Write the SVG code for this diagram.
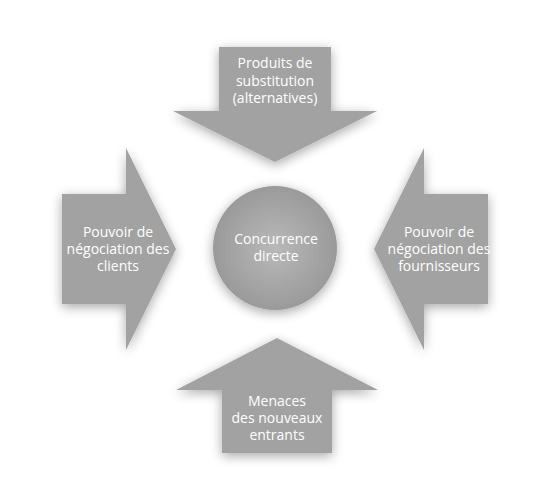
<svg xmlns="http://www.w3.org/2000/svg" width="550" height="501" viewBox="0 0 550 501">
  <defs>
    <filter id="shadow" x="-30%" y="-30%" width="160%" height="160%">
      <feGaussianBlur in="SourceAlpha" stdDeviation="6"/>
      <feOffset dx="0" dy="3" result="b"/>
      <feComponentTransfer><feFuncA type="linear" slope="0.35"/></feComponentTransfer>
      <feMerge><feMergeNode/><feMergeNode in="SourceGraphic"/></feMerge>
    </filter>
    <radialGradient id="sphere" cx="50%" cy="50%" r="50%">
      <stop offset="0" stop-color="#b9b9b9"/>
      <stop offset="1" stop-color="#9a9a9a"/>
    </radialGradient>
    <style>
      .arrow { fill: #a2a2a2; filter: url(#shadow); }
      .lbl { font-family: "Open Sans", "Lato", sans-serif; font-size: 14px; fill: #ffffff; text-anchor: middle; font-variant-ligatures: none; }
    </style>
  </defs>
  <rect width="550" height="501" fill="#ffffff"/>
  <g id="connectors"></g>
  <g id="substitution">
    <polygon class="arrow" points="219,47 331,47 331,111 377,111 275,162 173,111 219,111"/>
    <text class="lbl" x="275" y="68">Produits de</text>
    <text class="lbl" x="275" y="86">substitution</text>
    <text class="lbl" x="275" y="103">(alternatives)</text>
  </g>
  <g id="clients">
    <polygon class="arrow" points="62,194 126,194 126,148 176,249 126,350 126,304 62,304"/>
    <text class="lbl" x="118" y="237">Pouvoir de</text>
    <text class="lbl" x="118" y="254">négociation des</text>
    <text class="lbl" x="118" y="271">clients</text>
  </g>
  <g id="fournisseurs">
    <polygon class="arrow" points="488,194 424,194 424,148 374,249 424,350 424,304 488,304"/>
    <text class="lbl" x="439" y="237">Pouvoir de</text>
    <text class="lbl" x="439" y="254">négociation des</text>
    <text class="lbl" x="439" y="271">fournisseurs</text>
  </g>
  <g id="nouveaux">
    <polygon class="arrow" points="277,338 378,390 332,390 332,453 222,453 222,390 176,390"/>
    <text class="lbl" x="277" y="406">Menaces</text>
    <text class="lbl" x="277" y="423">des nouveaux</text>
    <text class="lbl" x="277" y="440">entrants</text>
  </g>
  <g id="concurrence">
    <circle cx="275" cy="248" r="62" fill="url(#sphere)" filter="url(#shadow)"/>
    <text class="lbl" x="276" y="244">Concurrence</text>
    <text class="lbl" x="276" y="261">directe</text>
  </g>
</svg>
